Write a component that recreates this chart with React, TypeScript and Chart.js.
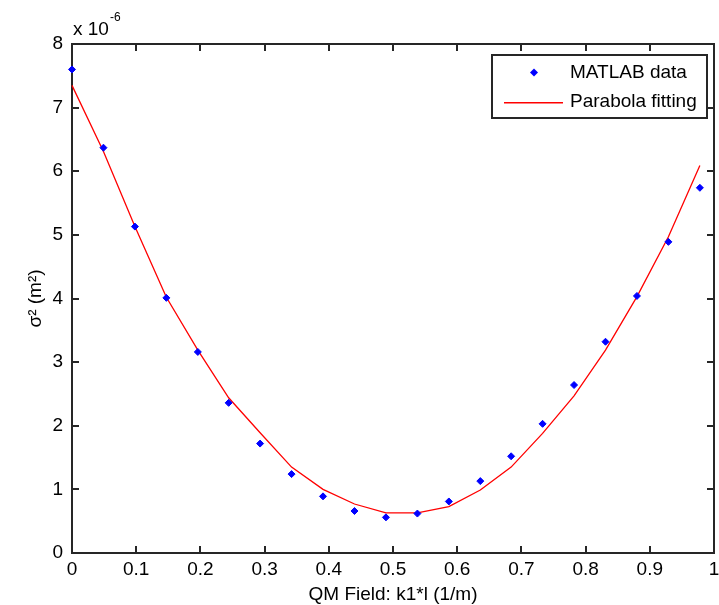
import { useEffect, useRef } from 'react';
import { Chart, registerables } from 'chart.js';

Chart.register(...registerables);

// QM field strength k1*l (1/m)
const fieldK1L = [0, 0.049, 0.098, 0.147, 0.196, 0.244, 0.293, 0.342, 0.391, 0.44, 0.489, 0.538, 0.587, 0.636, 0.684, 0.733, 0.782, 0.831, 0.88, 0.929, 0.978];
// measured sigma^2 (x 1e-6 m^2)
const sigma2Data = [7.6, 6.37, 5.13, 4.01, 3.16, 2.36, 1.72, 1.24, 0.89, 0.66, 0.56, 0.62, 0.81, 1.13, 1.52, 2.03, 2.64, 3.32, 4.04, 4.89, 5.74];
// parabola fit values at the same field points (x 1e-6 m^2)
const sigma2Fit = [7.35, 6.31, 5.13, 4.02, 3.19, 2.44, 1.89, 1.35, 1.0, 0.77, 0.63, 0.63, 0.73, 0.99, 1.35, 1.88, 2.47, 3.19, 4.03, 4.97, 6.09];

const xTickValues = [0, 0.1, 0.2, 0.3, 0.4, 0.5, 0.6, 0.7, 0.8, 0.9, 1];
const xTickLabels = ['0', '0.1', '0.2', '0.3', '0.4', '0.5', '0.6', '0.7', '0.8', '0.9', '1'];
const yTickValues = [0, 1, 2, 3, 4, 5, 6, 7, 8];
const yTickLabels = ['0', '1', '2', '3', '4', '5', '6', '7', '8'];

const seriesLabels = ['MATLAB data', 'Parabola fitting'];
const xTitle = 'QM Field: k1*l (1/m)';
const yTitle = 'σ² (m²)';
const exponentBase = 'x 10';
const exponentPower = '-6';

const FONT = "'Liberation Sans', Arial, sans-serif";
const FONT_SIZE = 19;
const AXIS_COLOR = '#262626';
const LW = 2;

function drawFrame(chart: any) {
  const { ctx, chartArea, scales } = chart;
  const l = Math.round(chartArea.left) - 1;
  const r = Math.round(chartArea.right) - 1;
  const t = Math.round(chartArea.top) - 1;
  const b = Math.round(chartArea.bottom) - 1;
  const tick = 6;
  ctx.save();
  ctx.fillStyle = AXIS_COLOR;
  ctx.fillRect(l, t, r - l + LW, LW);
  ctx.fillRect(l, b, r - l + LW, LW);
  ctx.fillRect(l, t, LW, b - t + LW);
  ctx.fillRect(r, t, LW, b - t + LW);
  for (const v of xTickValues) {
    const px = Math.min(r, Math.round(scales.x.getPixelForValue(v)) - 1);
    ctx.fillRect(px, b - tick, LW, tick);
    ctx.fillRect(px, t + LW, LW, tick);
  }
  for (const v of yTickValues) {
    const py = Math.min(b, Math.round(scales.y.getPixelForValue(v)) - 1);
    ctx.fillRect(l + LW, py, tick, LW);
    ctx.fillRect(r - tick, py, tick, LW);
  }
  ctx.restore();
}

const framePlugin = {
  id: 'matlabFrame',
  beforeDatasetsDraw(chart: any) {
    drawFrame(chart);
  },
  afterDraw(chart: any) {
    const { ctx, chartArea } = chart;
    ctx.save();
    // exponent label
    ctx.fillStyle = '#000';
    ctx.textBaseline = 'alphabetic';
    ctx.textAlign = 'left';
    ctx.font = `${FONT_SIZE}px ${FONT}`;
    const ex = chartArea.left + 1;
    ctx.fillText(exponentBase, ex, chartArea.top - 9);
    const w = ctx.measureText(exponentBase).width;
    ctx.font = `12px ${FONT}`;
    ctx.fillText(exponentPower, ex + w + 1, chartArea.top - 23);

    // legend
    const boxR = Math.round(chartArea.right) - 8;
    const boxT = Math.round(chartArea.top) + 10;
    const boxW = 215;
    const boxH = 63;
    const boxL = boxR - boxW;
    ctx.fillStyle = '#fff';
    ctx.fillRect(boxL, boxT, boxW, boxH);
    ctx.fillStyle = AXIS_COLOR;
    ctx.fillRect(boxL, boxT, boxW + LW, LW);
    ctx.fillRect(boxL, boxT + boxH, boxW + LW, LW);
    ctx.fillRect(boxL, boxT, LW, boxH + LW);
    ctx.fillRect(boxL + boxW, boxT, LW, boxH + LW);
    const row1 = boxT + 18.5;
    const row2 = boxT + 47.5;
    const mx = boxL + 43;
    ctx.fillStyle = '#0000ff';
    ctx.beginPath();
    ctx.moveTo(mx - 4, row1);
    ctx.lineTo(mx, row1 - 4);
    ctx.lineTo(mx + 4, row1);
    ctx.lineTo(mx, row1 + 4);
    ctx.closePath();
    ctx.fill();
    ctx.fillStyle = '#ff0000';
    ctx.fillRect(boxL + 13, Math.round(row2), 59, 1.5);
    ctx.fillStyle = '#000';
    ctx.font = `${FONT_SIZE}px ${FONT}`;
    ctx.textBaseline = 'middle';
    ctx.fillText(seriesLabels[0], boxL + 79, row1);
    ctx.fillText(seriesLabels[1], boxL + 79, row2);
    ctx.restore();
  },
};

export default function App() {
  const ref = useRef<HTMLCanvasElement | null>(null);

  useEffect(() => {
    if (!ref.current) return;
    const chart = new Chart(ref.current, {
      type: 'line',
      data: {
        datasets: [
          {
            label: seriesLabels[0],
            data: fieldK1L.map((x, i) => ({ x, y: sigma2Data[i] })),
            showLine: false,
            pointStyle: 'rectRot',
            pointRadius: 3.5,
            pointBorderWidth: 1,
            backgroundColor: '#0000ff',
            borderColor: '#0000ff',
            clip: false,
            order: 1,
          },
          {
            label: seriesLabels[1],
            data: fieldK1L.map((x, i) => ({ x, y: sigma2Fit[i] })),
            borderColor: '#ff0000',
            backgroundColor: '#ff0000',
            borderWidth: 1.3,
            pointRadius: 0,
            tension: 0,
            clip: false,
            order: 2,
          },
        ],
      },
      options: {
        animation: false,
        responsive: false,
        events: [],
        layout: { padding: { top: 44, right: 2, left: 0, bottom: 0 } },
        plugins: {
          legend: { display: false },
          tooltip: { enabled: false },
        },
        scales: {
          x: {
            type: 'linear',
            min: 0,
            max: 1,
            grid: { display: false, drawTicks: false },
            border: { display: false },
            afterBuildTicks: (scale: any) => {
              scale.ticks = xTickValues.map((value) => ({ value }));
            },
            afterFit: (scale: any) => {
              scale.height = 52;
              scale.paddingLeft = 0;
              scale.paddingRight = 0;
            },
            ticks: {
              color: '#000',
              padding: 5,
              maxRotation: 0,
              autoSkip: false,
              font: { family: FONT, size: FONT_SIZE },
              callback: (_v: any, i: number) => xTickLabels[i],
            },
            title: {
              display: true,
              text: xTitle,
              color: '#000',
              padding: { top: 0, bottom: 0.5 },
              font: { family: FONT, size: FONT_SIZE, lineHeight: 1 },
            },
          },
          y: {
            type: 'linear',
            min: 0,
            max: 8,
            grid: { display: false, drawTicks: false },
            border: { display: false },
            afterBuildTicks: (scale: any) => {
              scale.ticks = yTickValues.map((value) => ({ value }));
            },
            afterFit: (scale: any) => {
              scale.width = 72;
              scale.paddingTop = 0;
              scale.paddingBottom = 0;
            },
            ticks: {
              color: '#000',
              padding: 9,
              autoSkip: false,
              font: { family: FONT, size: FONT_SIZE },
              callback: (_v: any, i: number) => yTickLabels[i],
            },
            title: {
              display: true,
              text: yTitle,
              color: '#000',
              padding: { top: 26.5, bottom: 0 },
              font: { family: FONT, size: FONT_SIZE, lineHeight: 1 },
            },
          },
        },
      },
      plugins: [framePlugin],
    } as any);
    return () => chart.destroy();
  }, []);

  return (
    <div style={{ position: 'absolute', left: 0, top: 0, width: 719, height: 605, background: '#fff' }}>
      <canvas ref={ref} width={719} height={605} style={{ display: 'block', width: 719, height: 605 }} />
    </div>
  );
}
